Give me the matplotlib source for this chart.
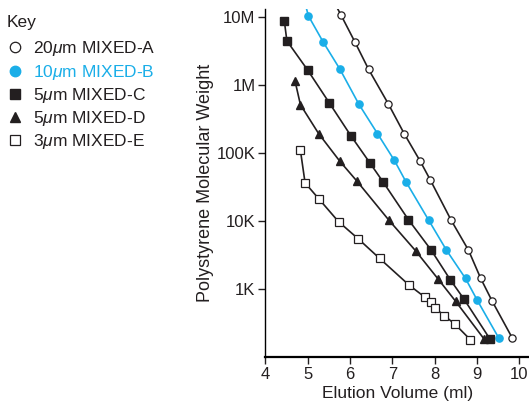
import matplotlib
matplotlib.use("Agg")
import matplotlib.pyplot as plt
from matplotlib.lines import Line2D

plt.rcParams["font.family"] = ["Liberation Sans", "DejaVu Sans"]
plt.rcParams["mathtext.fontset"] = "custom"
plt.rcParams["mathtext.rm"] = "Liberation Sans"
plt.rcParams["mathtext.it"] = "Liberation Sans:italic"

BLUE = "#1aaee8"

# ---------------- DATA ----------------

a_x = [5.45, 5.79, 6.12, 6.44, 6.91, 7.28, 7.66, 7.90, 8.39, 8.80, 9.09, 9.36, 9.83]
a_y = [26e6, 10.5e6, 4.2e6, 1.68e6, 517e3, 191e3, 75e3, 39.6e3, 10.2e3, 3.7e3, 1420, 659, 192]

b_x = [4.85, 5.02, 5.37, 5.76, 6.21, 6.65, 7.05, 7.32, 7.86, 8.28, 8.73, 9.01, 9.51]
b_y = [25e6, 10.2e6, 4.2e6, 1.7e6, 517e3, 191e3, 77e3, 37.7e3, 10.2e3, 3.7e3, 1420, 675, 192]

c_x = [4.45, 4.51, 5.00, 5.51, 6.02, 6.47, 6.78, 7.38, 7.92, 8.37, 8.70, 9.30]
c_y = [8.6e6, 4.4e6, 1.64e6, 542e3, 178e3, 71e3, 37.4e3, 10.4e3, 3.7e3, 1360, 698, 186]

d_x = [4.70, 4.83, 5.26, 5.76, 6.17, 6.92, 7.55, 8.08, 8.50, 9.16]
d_y = [1.15e6, 507e3, 191e3, 75e3, 37.9e3, 10.2e3, 3630, 1400, 652, 186]

e_x = [4.83, 4.94, 5.27, 5.73, 6.20, 6.70, 7.40, 7.77, 7.91, 8.02, 8.23, 8.48, 8.84]
e_y = [108e3, 36e3, 20.8e3, 9.7e3, 5.4e3, 2.8e3, 1130, 754, 631, 515, 403, 303, 180]

labels = ["20$\\mu$m MIXED-A", "10$\\mu$m MIXED-B", "5$\\mu$m MIXED-C",
          "5$\\mu$m MIXED-D", "3$\\mu$m MIXED-E"]

y_ticks = [1e3, 1e4, 1e5, 1e6, 1e7]
y_ticklabels = ["1K", "10K", "100K", "1M", "10M"]
x_ticks = [4, 5, 6, 7, 8, 9, 10]

# ---------------- PLOT ----------------

fig = plt.figure(figsize=(5.29, 4.01), dpi=100)
ax = fig.add_axes([0.5015, 0.11, 0.4985, 0.868])

ax.plot(a_x, a_y, color="#231f20", lw=1.2, marker="o", ms=5.2,
        mfc="white", mec="#231f20", mew=0.9)
ax.plot(b_x, b_y, color=BLUE, lw=1.2, marker="o", ms=5.2,
        mfc=BLUE, mec=BLUE)
ax.plot(c_x, c_y, color="#231f20", lw=1.2, marker="s", ms=5.2,
        mfc="#231f20", mec="#231f20")
ax.plot(d_x, d_y, color="#231f20", lw=1.2, marker="^", ms=5.2,
        mfc="#231f20", mec="#231f20")
ax.plot(e_x, e_y, color="#231f20", lw=1.2, marker="s", ms=5.2,
        mfc="white", mec="#231f20", mew=0.9)

ax.set_yscale("log")
ax.set_ylim(100, 1.3e7)
ax.set_xlim(4.0, 10.23)
ax.set_yticks(y_ticks)
ax.set_yticklabels(y_ticklabels)
ax.minorticks_off()
ax.set_xticks(x_ticks)

for s in ["top", "right"]:
    ax.spines[s].set_visible(False)
ax.spines["left"].set_linewidth(1.0)
ax.spines["bottom"].set_linewidth(1.6)
ax.tick_params(direction="out", length=5, width=1.0, pad=2,
               labelsize=12, colors="#231f20")

ax.set_xlabel("Elution Volume (ml)", fontsize=12.5, labelpad=3, color="#231f20")
ax.set_ylabel("Polystyrene Molecular Weight", fontsize=13, labelpad=2, color="#231f20")

# ---------------- KEY ----------------

fig.text(0.013, 1 - 23 / 401, "Key", fontsize=12.5, va="center", color="#231f20")

handles = [
    Line2D([], [], ls="none", marker="o", ms=7.5, mfc="white", mec="#231f20", mew=0.9),
    Line2D([], [], ls="none", marker="o", ms=7.5, mfc=BLUE, mec=BLUE),
    Line2D([], [], ls="none", marker="s", ms=7, mfc="#231f20", mec="#231f20"),
    Line2D([], [], ls="none", marker="^", ms=7.5, mfc="#231f20", mec="#231f20"),
    Line2D([], [], ls="none", marker="s", ms=7, mfc="white", mec="#231f20", mew=0.9),
]
leg = fig.legend(handles, labels, loc="upper left",
                 bbox_to_anchor=(-0.008, 1 - 29 / 401), frameon=False, fontsize=12.5,
                 handlelength=1.0, handletextpad=0.55, labelspacing=0.24,
                 borderaxespad=0.2)
for t in leg.get_texts():
    t.set_color("#231f20")
leg.get_texts()[1].set_color(BLUE)

plt.savefig("out.png", dpi=100)
plt.close()
